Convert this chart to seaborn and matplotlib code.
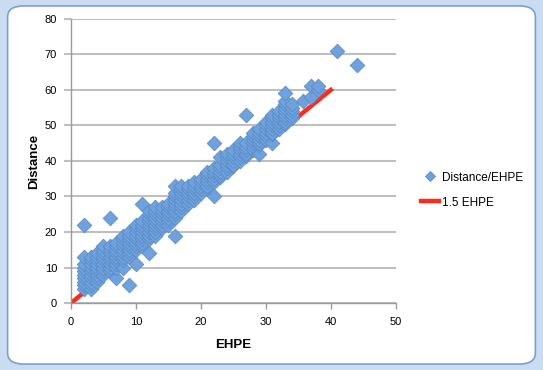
import matplotlib
matplotlib.use("Agg")
import matplotlib.pyplot as plt
import seaborn as sns
import pandas as pd
from matplotlib.patches import FancyBboxPatch
from matplotlib.lines import Line2D

# EHPE column -> Distance values
columns = {
    2: [4, 5, 6, 7, 8, 9, 10, 11, 13, 22],
    3: [4, 5, 6, 7, 8, 9, 10, 11, 12, 13],
    4: [6, 7, 8, 9, 10, 11, 12, 13, 14],
    5: [8, 9, 10, 11, 12, 13, 14, 15, 16],
    6: [9, 10, 11, 12, 13, 14, 15, 16, 24],
    7: [7, 10, 11, 12, 13, 14, 15, 16, 17],
    8: [10, 12, 13, 14, 15, 16, 17, 18, 19],
    9: [5, 13, 14, 15, 16, 17, 18, 19, 20],
    10: [11, 15, 16, 17, 18, 19, 20, 21, 22],
    11: [16, 17, 18, 19, 20, 21, 22, 23, 28],
    12: [14, 18, 19, 20, 21, 22, 23, 24, 25, 26],
    13: [19, 20, 21, 22, 23, 24, 25, 26, 27],
    14: [21, 22, 23, 24, 25, 26, 27],
    15: [22, 23, 24, 25, 26, 27, 28],
    16: [19, 24, 25, 26, 27, 28, 29, 30, 31, 33],
    17: [26, 27, 28, 29, 30, 31, 32, 33],
    18: [28, 29, 30, 31, 32, 33],
    19: [29, 30, 31, 32, 33, 34],
    20: [31, 32, 33, 34, 35],
    21: [32.5, 33, 34, 35, 36, 37],
    22: [30, 34, 35, 36, 37, 38, 45],
    23: [35.5, 36, 37, 38, 39, 41],
    24: [37, 38, 39, 40, 41, 42],
    25: [38.5, 39, 40, 41, 42, 43],
    26: [40, 41, 42, 43, 44, 45],
    27: [41.5, 42, 43, 44, 45, 53],
    28: [43, 44, 45, 46, 47, 48],
    29: [42, 44.5, 45, 46, 47, 48, 49],
    30: [46, 47, 48, 49, 50, 51],
    31: [45, 47.5, 48, 49, 50, 51, 52, 53],
    32: [49, 50, 51, 52, 53, 54],
    33: [50.5, 51, 52, 53, 54, 55, 56, 57, 59],
    34: [52, 53, 54, 55, 56],
    35.7: [57],
    37: [58, 61],
    38: [60, 61],
    41: [71],
    44: [67],
}
ehpe = [x for x, ys in columns.items() for _ in ys]
distance = [y for ys in columns.values() for y in ys]

line_x = [0, 40]
line_y = [0, 60]

df = pd.DataFrame({"EHPE": ehpe, "Distance": distance})
line_df = pd.DataFrame({"x": line_x, "y": line_y})

fig = plt.figure(figsize=(5.43, 3.70), dpi=100)
fig.patch.set_facecolor("#c9dcf2")
frame = FancyBboxPatch((0.014, 0.016), 0.972, 0.968,
                       boxstyle="round,pad=0,rounding_size=0.03",
                       transform=fig.transFigure, facecolor="white",
                       edgecolor="#7b9fd4", linewidth=1.2, zorder=-5)
fig.patches.append(frame)

ax = fig.add_axes([0.1308, 0.181, 0.598, 0.768])
ax.set_zorder(2)
ax.set_facecolor("none")

sns.lineplot(data=line_df, x="x", y="y", ax=ax, color="#ff2a1a",
             linewidth=3.2, zorder=2, legend=False)
sns.scatterplot(data=df, x="EHPE", y="Distance", ax=ax, marker="D", s=55,
                color="#6fa2dc", edgecolor="#5a8cc8", linewidth=0.6,
                zorder=3, legend=False)

ax.set_xlim(0, 50)
ax.set_ylim(0, 80)
ax.set_xticks(range(0, 51, 10))
ax.set_yticks(range(0, 81, 10))
ax.grid(axis="y", color="#bfbfbf", linewidth=1.5, zorder=0)
ax.set_axisbelow(True)
for s in ["top", "right"]:
    ax.spines[s].set_visible(False)
for s in ["left", "bottom"]:
    ax.spines[s].set_color("#9a9a9a")
    ax.spines[s].set_linewidth(1.0)
ax.tick_params(axis="both", colors="#9a9a9a", labelcolor="black",
               labelsize=8, length=4, width=1)
ax.tick_params(axis="x", pad=6)
ax.tick_params(axis="y", length=5, width=1.5, colors="#bfbfbf",
               labelcolor="black", pad=5)
for lab in ax.get_xticklabels() + ax.get_yticklabels():
    lab.set_fontfamily("Liberation Sans")
ax.set_xlabel("EHPE", fontsize=9.5, fontweight="bold",
              fontfamily="Liberation Sans", labelpad=9)
ax.set_ylabel("Distance", fontsize=9.5, fontweight="bold",
              fontfamily="Liberation Sans", labelpad=3)

handles = [
    Line2D([], [], marker="D", linestyle="none", markersize=5.5,
           markerfacecolor="#6fa2dc", markeredgecolor="#5a8cc8",
           markeredgewidth=0.6),
    Line2D([], [], color="#ff2a1a", linewidth=3.2),
]
fig.legend(handles, ["Distance/EHPE", "1.5 EHPE"], loc="upper left",
           bbox_to_anchor=(0.755, 0.565), frameon=False,
           prop={"family": "Liberation Sans", "size": 8.5},
           handlelength=1.6, handletextpad=0.2, labelspacing=1.1)

fig.savefig("out.png", dpi=100)
